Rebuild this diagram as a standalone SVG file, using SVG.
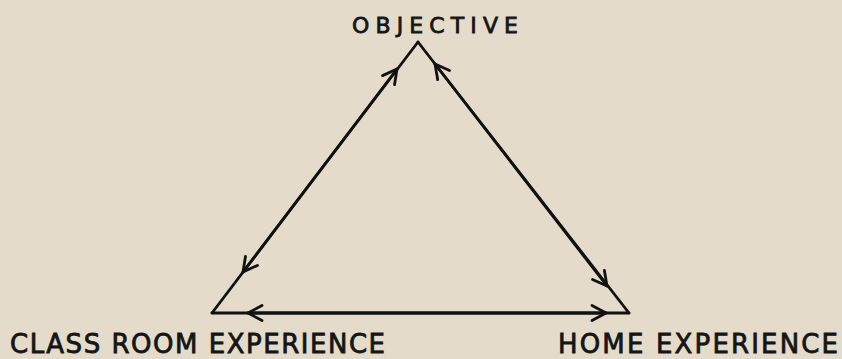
<svg xmlns="http://www.w3.org/2000/svg" width="842" height="359" viewBox="0 0 842 359">
  <defs>
    <marker id="chev" markerUnits="userSpaceOnUse" markerWidth="34" markerHeight="34" viewBox="-17 -17 34 34" refX="0" refY="0" orient="auto">
      <path d="M-14,-7.5 L0,0 L-14,7.5" fill="none" stroke="#111" stroke-width="2.8" stroke-linecap="round" stroke-linejoin="round"/>
    </marker>
  </defs>
  <style>
    .edge { fill: none; stroke: #111; stroke-width: 2.8; stroke-linecap: round; stroke-linejoin: round; marker-end: url(#chev); }
    .lbl { font-family: "DejaVu Sans", "Liberation Sans", sans-serif; fill: #151515; stroke: #151515; stroke-width: 0.8; }
  </style>
  <rect x="0" y="0" width="842" height="359" fill="#e4dbca"/>
  <g id="connectors">
    <path class="edge" d="M212,313 L397,69"/>
    <path class="edge" d="M418,42 L243,272"/>
    <path class="edge" d="M629,313 L435,64"/>
    <path class="edge" d="M418,42 L607,286"/>
    <path class="edge" d="M629,313 L248,313"/>
    <path class="edge" d="M212,313 L606,313"/>
  </g>
  <g id="node-objective">
    <text class="lbl" x="352" y="33" font-size="22" textLength="166" lengthAdjust="spacing">OBJECTIVE</text>
  </g>
  <g id="node-classroom">
    <text class="lbl" x="10" y="353" font-size="26" textLength="375" lengthAdjust="spacing">CLASS ROOM EXPERIENCE</text>
  </g>
  <g id="node-home">
    <text class="lbl" x="558" y="353" font-size="26" textLength="280" lengthAdjust="spacing">HOME EXPERIENCE</text>
  </g>
</svg>
